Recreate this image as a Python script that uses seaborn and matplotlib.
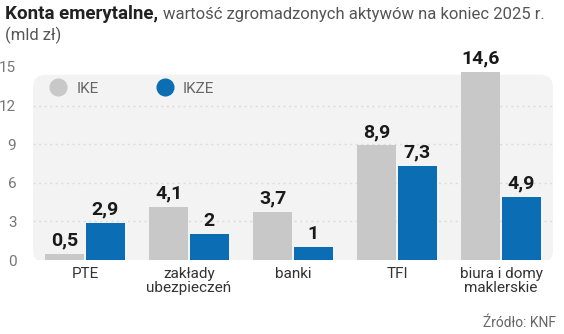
import matplotlib
matplotlib.use("Agg")
import matplotlib.pyplot as plt
import seaborn as sns
import pandas as pd
from matplotlib.patches import FancyBboxPatch
from matplotlib.lines import Line2D

categories = ["PTE", "zakłady\nubezpieczeń", "banki", "TFI", "biura i domy\nmaklerskie"]
ike = [0.5, 4.1, 3.7, 8.9, 14.6]
ikze = [2.9, 2.0, 1.0, 7.3, 4.9]
series = ["IKE", "IKZE"]
yticks = [0, 3, 6, 9, 12, 15]

df = pd.DataFrame({
    "cat": categories * 2,
    "val": ike + ikze,
    "ser": ["IKE"] * len(categories) + ["IKZE"] * len(categories),
})

sns.set_theme(style="white")
FAM = ["Roboto", "DejaVu Sans"]
plt.rcParams["font.family"] = FAM

colors = {"IKE": "#c8c8c8", "IKZE": "#0b6db3"}

fig = plt.figure(figsize=(5.64, 3.34), dpi=100)
ax = fig.add_axes([33 / 564, 1 - 260 / 334, 520 / 564, (260 - 67) / 334])
ax.set_facecolor("none")

bg = FancyBboxPatch((0, -0.015), 1, 0.975, boxstyle="round,pad=0,rounding_size=0.025",
                    transform=ax.transAxes, facecolor="#f3f3f3", edgecolor="none", zorder=0,
                    mutation_aspect=520 / 193)
ax.add_patch(bg)

sns.barplot(data=df, x="cat", y="val", hue="ser", palette=colors, width=0.78, gap=0.05,
            ax=ax, legend=False, zorder=3, saturation=1, linewidth=0)

for y in [3, 6, 9, 12]:
    ax.axhline(y, color="#dcdcdc", lw=1, ls=(0, (1.5, 2.5)), zorder=1)

ax.set_ylim(0, 15)
ax.set_xlim(-0.5, 4.5)
ax.set_yticks(yticks)
ax.set_yticklabels([str(t) for t in yticks], color="#777777", fontsize=11)
ax.tick_params(axis="y", length=0, pad=12)
ax.tick_params(axis="x", length=0, pad=5)
ax.set_xticks(range(len(categories)))
ax.set_xticklabels(categories, color="#333333", fontsize=11, linespacing=1.0)
ax.set_xlabel("")
ax.set_ylabel("")
for s in ax.spines.values():
    s.set_visible(False)

for cont in ax.containers:
    for bar in cont:
        h = bar.get_height()
        txt = f"{h:g}".replace(".", ",")
        ax.text(bar.get_x() + bar.get_width() / 2, h + 0.35, txt, ha="center", va="bottom",
                fontsize=14, fontweight="bold", color="#1a1a1a", zorder=5)

handles = [Line2D([], [], marker="o", ls="none", markersize=12, color=colors[s]) for s in series]
ax.legend(handles, series, loc="upper left", bbox_to_anchor=(-0.007, 0.995), ncol=2, frameon=False,
          handletextpad=0.2, columnspacing=3.3, fontsize=11, labelcolor="#666666")

t1 = fig.text(5 / 564, 1 - 19 / 334, "Konta emerytalne,", fontsize=13.5, fontweight="bold",
              color="#222222", va="baseline")
fig.canvas.draw()
bb = t1.get_window_extent(fig.canvas.get_renderer())
fig.text(bb.x1 / 564 + 5 / 564, 1 - 19 / 334, "wartość zgromadzonych aktywów na koniec 2025 r.",
         fontsize=12, color="#555555", va="baseline")
fig.text(5 / 564, 1 - 40 / 334, "(mld zł)", fontsize=12, color="#555555", va="baseline")
fig.text(556 / 564, 1 - 327 / 334, "Źródło: KNF", fontsize=10, color="#666666",
         ha="right", va="baseline")

fig.savefig("out.png", dpi=100)
